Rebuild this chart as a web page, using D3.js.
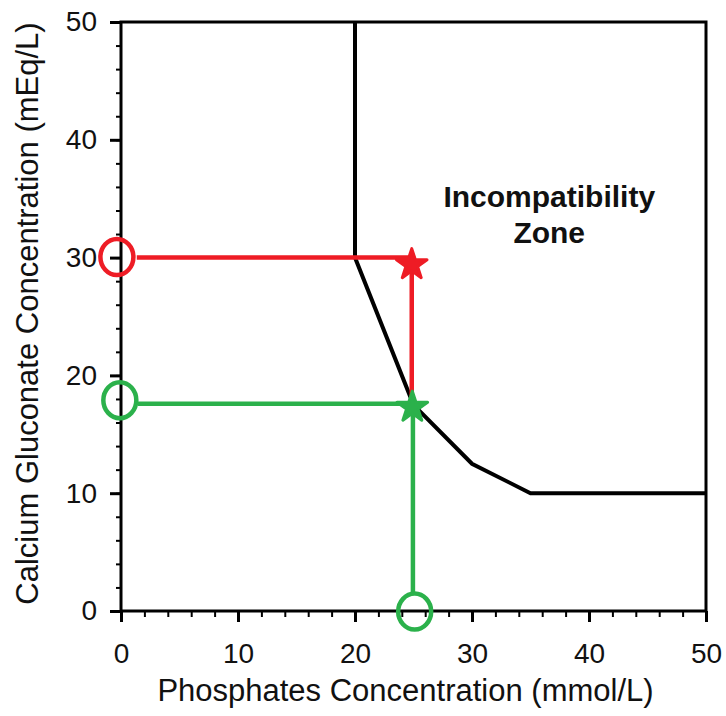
<!DOCTYPE html>
<html>
<head>
<meta charset="utf-8">
<script src="https://cdn.jsdelivr.net/npm/d3@7"></script>
<style>
  body { margin: 0; background: #fff; }
  svg { display: block; font-family: 'Liberation Sans', Arial, sans-serif; }
</style>
</head>
<body>
<div id="chart"></div>
<script>
// incompatibility boundary (phosphate mmol/L, calcium mEq/L)
const boundaryX = [20, 20, 25, 30, 35, 50];
const boundaryY = [50, 30, 17.5, 12.5, 10, 10];

// red example: 30 mEq/L calcium meets 25 mmol/L phosphate
const redLineX = [1.35, 24.85, 24.85];
const redLineY = [30, 30, 17.6];
const redStar = { x: 24.85, y: 29.4 };
const redCircles = [{ x: -0.35, y: 30.05 }];

// green example: 18 mEq/L calcium, 25 mmol/L phosphate
const greenLineX = [1.45, 24.95, 24.95];
const greenLineY = [17.6, 17.6, 1.6];
const greenStar = { x: 24.9, y: 17.3 };
const greenCircles = [{ x: -0.1, y: 17.9 }, { x: 25.1, y: -0.05 }];

const xTicks = [0, 10, 20, 30, 40, 50];
const yTicks = [0, 10, 20, 30, 40, 50];
const minorTicks = d3.range(0, 51, 2);

const zoneLabel = ['Incompatibility', 'Zone'];
const xTitle = 'Phosphates Concentration (mmol/L)';
const yTitle = 'Calcium Gluconate Concentration (mEq/L)';

const RED = '#ee1c25';
const GREEN = '#2bb14b';

const W = 726, H = 716;
const margin = { top: 22, right: 20, bottom: 105, left: 121 };
const width = W - margin.left - margin.right;
const height = H - margin.top - margin.bottom;

const svg = d3.select('#chart').append('svg')
  .attr('width', W)
  .attr('height', H);

const chart = svg.append('g')
  .attr('transform', 'translate(' + margin.left + ',' + margin.top + ')');

const xScale = d3.scaleLinear().domain([0, 50]).range([0, width]);
const yScale = d3.scaleLinear().domain([0, 50]).range([height, 0]);

// frame
chart.append('rect')
  .attr('width', width)
  .attr('height', height)
  .attr('fill', 'none')
  .attr('stroke', '#000')
  .attr('stroke-width', 3);

// minor ticks
chart.append('g')
  .attr('transform', 'translate(0,' + height + ')')
  .call(d3.axisBottom(xScale).tickValues(minorTicks).tickSize(6).tickFormat(''))
  .call(g => g.select('.domain').remove())
  .call(g => g.selectAll('line').attr('stroke-width', 2));
chart.append('g')
  .call(d3.axisLeft(yScale).tickValues(minorTicks).tickSize(5).tickFormat(''))
  .call(g => g.select('.domain').remove())
  .call(g => g.selectAll('line').attr('stroke-width', 2));

// major ticks + labels
chart.append('g')
  .attr('class', 'x axis')
  .attr('transform', 'translate(0,' + height + ')')
  .call(d3.axisBottom(xScale).tickValues(xTicks).tickSize(11).tickPadding(21))
  .call(g => g.select('.domain').remove())
  .call(g => g.selectAll('line').attr('stroke-width', 3))
  .call(g => g.selectAll('text')
    .attr('font-size', 28)
    .attr('font-family', "'Liberation Sans', Arial, sans-serif")
    .attr('fill', '#111'));

chart.append('g')
  .attr('class', 'y axis')
  .call(d3.axisLeft(yScale).tickValues(yTicks).tickSize(11).tickPadding(13))
  .call(g => g.select('.domain').remove())
  .call(g => g.selectAll('line').attr('stroke-width', 3))
  .call(g => g.selectAll('text')
    .attr('font-size', 28)
    .attr('font-family', "'Liberation Sans', Arial, sans-serif")
    .attr('fill', '#111'));

// axis titles
svg.append('text')
  .attr('x', margin.left + width / 2 - 8)
  .attr('y', 701)
  .attr('text-anchor', 'middle')
  .attr('font-size', 31)
  .attr('fill', '#111')
  .text(xTitle);

svg.append('text')
  .attr('transform', 'translate(38,' + (margin.top + height / 2 - 3) + ') rotate(-90)')
  .attr('text-anchor', 'middle')
  .attr('font-size', 31)
  .attr('fill', '#111')
  .text(yTitle);

const line = d3.line()
  .x(d => xScale(d[0]))
  .y(d => yScale(d[1]));

chart.append('path')
  .datum(d3.zip(boundaryX, boundaryY))
  .attr('fill', 'none')
  .attr('stroke', '#000')
  .attr('stroke-width', 4)
  .attr('d', line);

chart.append('path')
  .datum(d3.zip(redLineX, redLineY))
  .attr('fill', 'none')
  .attr('stroke', RED)
  .attr('stroke-width', 4.5)
  .attr('d', line);

chart.append('path')
  .datum(d3.zip(greenLineX, greenLineY))
  .attr('fill', 'none')
  .attr('stroke', GREEN)
  .attr('stroke-width', 4.5)
  .attr('d', line);

const star = d3.symbol().type(d3.symbolStar).size(290);

[[redStar, RED], [greenStar, GREEN]].forEach(([s, c]) => {
  chart.append('path')
    .attr('d', star())
    .attr('transform', 'translate(' + xScale(s.x) + ',' + yScale(s.y) + ')')
    .attr('fill', c)
    .attr('stroke', c)
    .attr('stroke-width', 3)
    .attr('stroke-linejoin', 'round');
});

const addCircles = (pts, color) => {
  chart.selectAll(null)
    .data(pts)
    .enter()
    .append('ellipse')
    .attr('cx', d => xScale(d.x))
    .attr('cy', d => yScale(d.y))
    .attr('rx', 16.5)
    .attr('ry', 18)
    .attr('fill', 'none')
    .attr('stroke', color)
    .attr('stroke-width', 4.5);
};
addCircles(redCircles, RED);
addCircles(greenCircles, GREEN);

// zone label
chart.append('text')
  .attr('x', xScale(36.6))
  .attr('y', yScale(34.3))
  .attr('text-anchor', 'middle')
  .attr('font-size', 30)
  .attr('font-weight', 'bold')
  .attr('fill', '#111')
  .selectAll('tspan')
  .data(zoneLabel)
  .enter()
  .append('tspan')
  .attr('x', xScale(36.6))
  .attr('dy', (d, i) => i ? 36 : 0)
  .text(d => d);
</script>
</body>
</html>
